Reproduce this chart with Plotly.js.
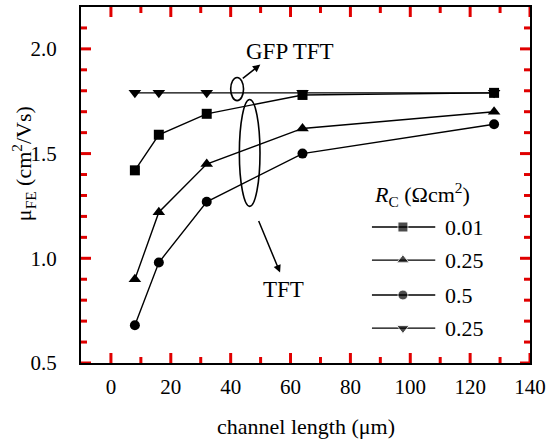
<!DOCTYPE html>
<html>
<head>
<meta charset="utf-8">
<script src="https://cdn.plot.ly/plotly-3.0.1.min.js"></script>
<style>
  html, body { margin: 0; padding: 0; background: #fff; }
  #chart { width: 548px; height: 440px; }
</style>
</head>
<body>
<div id="chart"></div>
<script>
// Channel lengths of the measured TFTs (µm)
const channelLength = [8, 16, 32, 64, 128];

// Field-effect mobility (cm²/Vs) for each contact resistance R_C
const muRc001 = [1.42, 1.59, 1.69, 1.78, 1.79];
const muRc025 = [0.90, 1.22, 1.45, 1.62, 1.70];
const muRc05  = [0.68, 0.98, 1.27, 1.50, 1.64];
const muGfp   = [1.79, 1.79, 1.79, 1.79, 1.79];

// Series labels (R_C in Ωcm²) and their marker symbols
const seriesLabels  = ['0.01', '0.25', '0.5', '0.25'];
const seriesSymbols = ['square', 'triangle-up', 'circle', 'triangle-down'];
const seriesValues  = [muRc001, muRc025, muRc05, muGfp];
const markerSizes   = [10, 11, 10, 11];

// Axis ticks
const xTickVals = [0, 20, 40, 60, 80, 100, 120, 140];
const yTickVals = [0.5, 1.0, 1.5, 2.0];
const yTickText = ['0.5', '1.0', '1.5', '2.0'];

const X_RANGE = [-10, 140];
const Y_RANGE = [0.5, 2.2];

const W = 548, H = 440;
const MARGIN = { l: 81, r: 18, t: 7, b: 77 };
const PLOT_W = W - MARGIN.l - MARGIN.r;
const PLOT_H = H - MARGIN.t - MARGIN.b;

const SERIF = 'Liberation Serif, Times New Roman, serif';
const INK = '#000';

// fraction of the plot area -> axis value
const fx = f => X_RANGE[0] + f * (X_RANGE[1] - X_RANGE[0]);
const fy = f => Y_RANGE[0] + f * (Y_RANGE[1] - Y_RANGE[0]);
// pixel length -> axis units
const pxX = p => p * (X_RANGE[1] - X_RANGE[0]) / PLOT_W;
const pxY = p => p * (Y_RANGE[1] - Y_RANGE[0]) / PLOT_H;

const traces = [];

// Inward tick marks on all four sides of the frame, one trace per side
const MAJOR_LEN = 10, MINOR_LEN = 6;
const xMinor = [], yMinor = [];
for (let v = 10; v < 140; v += 20) xMinor.push(v);
for (let k = 6; k <= 21; k++) if (k % 5 !== 0) yMinor.push(k / 10);

function tickTrace(xs, ys) {
  return {
    x: xs, y: ys, type: 'scatter', mode: 'lines',
    line: { color: '#e00000', width: 3 }, connectgaps: false,
    showlegend: false, hoverinfo: 'skip', cliponaxis: false
  };
}
function sideX(yBase, dir) {
  const xs = [], ys = [];
  xTickVals.concat(xMinor).forEach(v => {
    const len = xTickVals.includes(v) ? MAJOR_LEN : MINOR_LEN;
    xs.push(v, v, null);
    ys.push(yBase, yBase + dir * pxY(len), null);
  });
  return tickTrace(xs, ys);
}
function sideY(xBase, dir) {
  const xs = [], ys = [];
  yTickVals.concat(yMinor).forEach(v => {
    const len = yTickVals.includes(v) ? MAJOR_LEN : MINOR_LEN;
    xs.push(xBase, xBase + dir * pxX(len), null);
    ys.push(v, v, null);
  });
  return tickTrace(xs, ys);
}
traces.push(sideX(Y_RANGE[0], 1), sideX(Y_RANGE[1], -1), sideY(X_RANGE[0], 1), sideY(X_RANGE[1], -1));

// Data curves (GFP series first so the others sit on top)
[3, 0, 1, 2].forEach(i => {
  traces.push({
    x: channelLength,
    y: seriesValues[i],
    type: 'scatter',
    mode: 'lines+markers',
    line: { color: INK, width: 1.4 },
    marker: { symbol: seriesSymbols[i], size: markerSizes[i], color: INK },
    showlegend: false,
    hoverinfo: 'skip'
  });
});

// Key: a short sample line with the series marker in its middle
const keyFracX = [0.648, 0.717, 0.789];
const keyRowFracY = [0.382, 0.289, 0.191, 0.098];
seriesLabels.forEach((lbl, i) => {
  const yv = fy(keyRowFracY[i]);
  traces.push({
    x: keyFracX.map(fx),
    y: [yv, yv, yv],
    type: 'scatter',
    mode: 'lines+markers',
    line: { color: INK, width: 1.4 },
    marker: { symbol: seriesSymbols[i], size: [0, markerSizes[i], 0], color: INK },
    showlegend: false,
    hoverinfo: 'skip'
  });
});

const annotations = [
  // axis titles
  {
    xref: 'paper', yref: 'paper', x: -0.128, y: 0.56, xanchor: 'center', yanchor: 'middle',
    text: 'μ<sub>FE</sub> (cm<sup>2</sup>/Vs)', textangle: -90,
    showarrow: false, font: { family: SERIF, size: 22, color: INK }
  },
  {
    xref: 'paper', yref: 'paper', x: 0.5, y: -0.178, xanchor: 'center', yanchor: 'middle',
    text: 'channel length (μm)',
    showarrow: false, font: { family: SERIF, size: 22, color: INK }
  },
  // key title
  {
    xref: 'paper', yref: 'paper', x: 0.648, y: 0.472, xanchor: 'left', yanchor: 'middle',
    text: '<i>R</i><sub>C</sub> (Ωcm<sup>2</sup>)',
    showarrow: false, font: { family: SERIF, size: 22, color: INK }
  },
  // series group labels
  {
    x: 59.7, y: 1.987, text: 'GFP TFT', showarrow: false,
    font: { family: SERIF, size: 23, color: INK }
  },
  {
    x: 57.5, y: 0.852, text: 'TFT', showarrow: false,
    font: { family: SERIF, size: 23, color: INK }
  },
  // pointer arrows
  {
    x: 49.9, y: 1.925, text: '', showarrow: true, ax: -19, ay: 15,
    arrowhead: 2, arrowsize: 1, arrowwidth: 1.5, arrowcolor: INK
  },
  {
    x: 56.5, y: 0.932, text: '', showarrow: true, ax: -22, ay: -53,
    arrowhead: 2, arrowsize: 1, arrowwidth: 1.5, arrowcolor: INK
  }
];

// Key value labels
seriesLabels.forEach((lbl, i) => {
  annotations.push({
    xref: 'paper', yref: 'paper', x: 0.806, y: keyRowFracY[i], xanchor: 'left', yanchor: 'middle',
    text: lbl, showarrow: false,
    font: { family: SERIF, size: 22, color: INK }
  });
});

const shapes = [
  // ring around the GFP TFT curve
  { type: 'circle', xref: 'x', yref: 'y', x0: 40.0, x1: 44.3, y0: 1.753, y1: 1.863,
    line: { color: INK, width: 1.6 } },
  // ring around the TFT curves
  { type: 'circle', xref: 'x', yref: 'y', x0: 42.9, x1: 49.8, y0: 1.248, y1: 1.758,
    line: { color: INK, width: 1.6 } }
];

const layout = {
  width: W, height: H,
  margin: MARGIN,
  paper_bgcolor: '#fff', plot_bgcolor: 'rgba(0,0,0,0)',
  showlegend: false,
  xaxis: {
    range: X_RANGE.slice(),
    tickmode: 'array', tickvals: xTickVals,
    showline: true, linecolor: INK, linewidth: 2, mirror: true,
    ticks: '', ticklabelstandoff: 4,
    showgrid: false, zeroline: false,
    tickfont: { family: SERIF, size: 21, color: INK }
  },
  yaxis: {
    range: Y_RANGE.slice(),
    tickmode: 'array', tickvals: yTickVals, ticktext: yTickText,
    showline: true, linecolor: INK, linewidth: 2, mirror: true,
    ticks: '', ticklabelstandoff: 18,
    showgrid: false, zeroline: false,
    tickfont: { family: SERIF, size: 21, color: INK }
  },
  annotations: annotations,
  shapes: shapes
};

Plotly.newPlot('chart', traces, layout, { staticPlot: true, displayModeBar: false });
</script>
</body>
</html>
